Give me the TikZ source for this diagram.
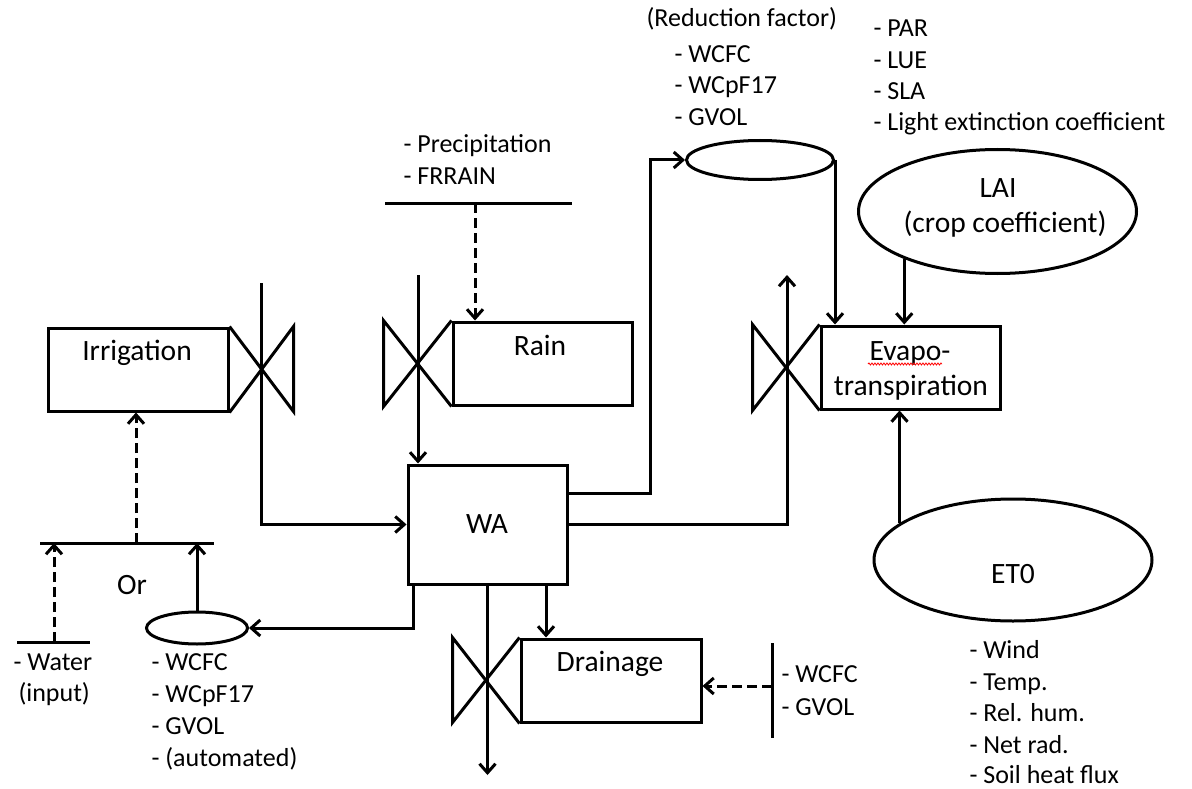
\documentclass[tikz,border=0pt]{standalone}
\usepackage{fontspec}
\setmainfont{Carlito}
\usetikzlibrary{arrows.meta,decorations.pathmorphing,shapes.geometric}
\begin{document}
\begin{tikzpicture}[x=1pt,y=-1pt,line width=3pt,
  flow/.style={-{Straight Barb[length=9pt,width=16pt]}},
  dflow/.style={flow,dash pattern=on 10pt off 5pt},
  box/.style={draw,rectangle,inner sep=0pt},
  ell/.style={draw,ellipse,inner sep=0pt},
  big/.style={font=\fontsize{29.5}{36}\selectfont,inner sep=0pt,anchor=base},
  lst/.style={font=\fontsize{26}{32}\selectfont,inner sep=0pt,anchor=base west}]
\fill[white] (0,0) rectangle (1192,789);
\useasboundingbox (0,0) rectangle (1192,789);

% boxes
\node[box,minimum width=180pt,minimum height=83pt] (irr) at (138,369.5) {};
\node[box,minimum width=179pt,minimum height=83pt] (rain) at (542.5,363.5) {};
\node[box,minimum width=159pt,minimum height=119pt] (wa) at (487.5,524.5) {};
\node[box,minimum width=180pt,minimum height=83pt] (drain) at (611,680.5) {};
\node[box,minimum width=179pt,minimum height=83pt] (evap) at (910.5,367.5) {};

% ellipses
\node[ell,minimum width=101pt,minimum height=32pt] (sm) at (197,628) {};
\node[ell,minimum width=147pt,minimum height=39pt] (rf) at (760,160) {};
\node[ell,minimum width=278pt,minimum height=124pt] (lai) at (997.5,211.5) {};
\node[ell,minimum width=278pt,minimum height=122pt] (et0) at (1013,560) {};

% valves
\draw (irr.north east) -- ++(64,85) -- ++(0,-85) -- (irr.south east);
\draw (rain.north west) -- ++(-68,86) -- ++(0,-86) -- (rain.south west);
\draw (evap.north west) -- ++(-67,86) -- ++(0,-86) -- (evap.south west);
\draw (drain.north west) -- ++(-67,85) -- ++(0,-85) -- (drain.south west);

% sources / sinks lines
\coordinate (orL) at (40,543); \coordinate (orR) at (214,543); \coordinate (orM) at (136,543);
\coordinate (wL) at (17,642); \coordinate (wR) at (90,642); \coordinate (wM) at (54,642);
\coordinate (pL) at (385,203); \coordinate (pR) at (572,203); \coordinate (pM) at (475,203);
\coordinate (dT) at (772,643); \coordinate (dB) at (772,738); \coordinate (dM) at (772,686);
\draw (orL) -- (orR);
\draw (wL) -- (wR);
\draw (pL) -- (pR);
\draw (dT) -- (dB);

% flows
\coordinate (irrtop) at (261,283);
\draw[flow] (irrtop) |- (wa.west);
\coordinate (raintop) at (418,275);
\draw[flow] (raintop) -- (raintop |- wa.north);
\coordinate (w1) at (650,493);
\draw[flow] (wa.east |- w1) -- (w1) |- (rf.west);
\draw[flow] (rf.east) -- (rf.east |- evap.north);
\coordinate (etop) at (787,275);
\draw[flow] (wa.east) -| (etop);
\draw[flow] (lai.-153) -- (lai.-153 |- evap.north);
\draw[flow] (et0.162) -- (et0.162 |- evap.south);
\coordinate (wsm) at (413,0);
\draw[flow] (wa.south -| wsm) |- (sm.east);
\draw[flow] (sm.north) -- (sm.north |- orR);
\draw[dflow] (orM) -- (orM |- irr.south);
\draw[dflow] (wM) -- (wM |- orL);
\draw[dflow] (pM) -- (pM |- rain.north);
\coordinate (wd) at (546,0);
\draw[flow] (wa.south -| wd) -- (wd |- drain.north);
\coordinate (wout) at (487.5,775);
\draw[flow] (wa.south) -- (wout);
\draw[dflow] (dM) -- (dM -| drain.east);

% labels in shapes
\node[big] (tirr) at (137,360) {Irrigation};
\node[big] (train) at (540,355) {Rain};
\node[big] (twa) at (487,533) {WA};
\node[big] (tdrain) at (610,671) {Drainage};
\node[big] (tevap1) at (910,360) {Evapo-};
\node[big] (tevap2) at (911,395) {transpiration};
\node[big] (tlai1) at (998,197) {LAI};
\node[big] (tlai2) at (1005,232) {(crop coefficient)};
\node[big] (tet0) at (1013,583) {ET0};
\node[big] (tor) at (132,594) {Or};
\draw[red,line width=0.8pt,decorate,decoration={snake,amplitude=1pt,segment length=3pt}] (868,364) -- (942,364);

% lists
\node[lst] (l1) at (12,670) {- Water};
\node[lst] (l2) at (17,701) {(input)};
\node[lst] (s1) at (150,670) {- WCFC};
\node[lst] (s2) at (150,702) {- WCpF17};
\node[lst] (s3) at (150,734) {- GVOL};
\node[lst] (s4) at (150,766) {- (automated)};
\node[lst] (p1) at (402,153) {- Precipitation};
\node[lst] (p2) at (402,185) {- FRRAIN};
\node[lst] (r0) at (645,27) {(Reduction factor)};
\node[lst] (r1) at (673,63) {- WCFC};
\node[lst] (r2) at (673,94) {- WCpF17};
\node[lst] (r3) at (673,126) {- GVOL};
\node[lst] (a1) at (872,37) {- PAR};
\node[lst] (a2) at (872,69) {- LUE};
\node[lst] (a3) at (872,100) {- SLA};
\node[lst] (a4) at (872,131) {- Light extinction coefficient};
\node[lst] (d1) at (780,682) {- WCFC};
\node[lst] (d2) at (780,715) {- GVOL};
\node[lst] (e1) at (968,658) {- Wind};
\node[lst] (e2) at (968,690) {- Temp.};
\node[lst] (e3) at (968,721) {- Rel. hum.};
\node[lst] (e4) at (968,753) {- Net rad.};
\node[lst] (e5) at (968,783) {- Soil heat flux};
\end{tikzpicture}
\end{document}
